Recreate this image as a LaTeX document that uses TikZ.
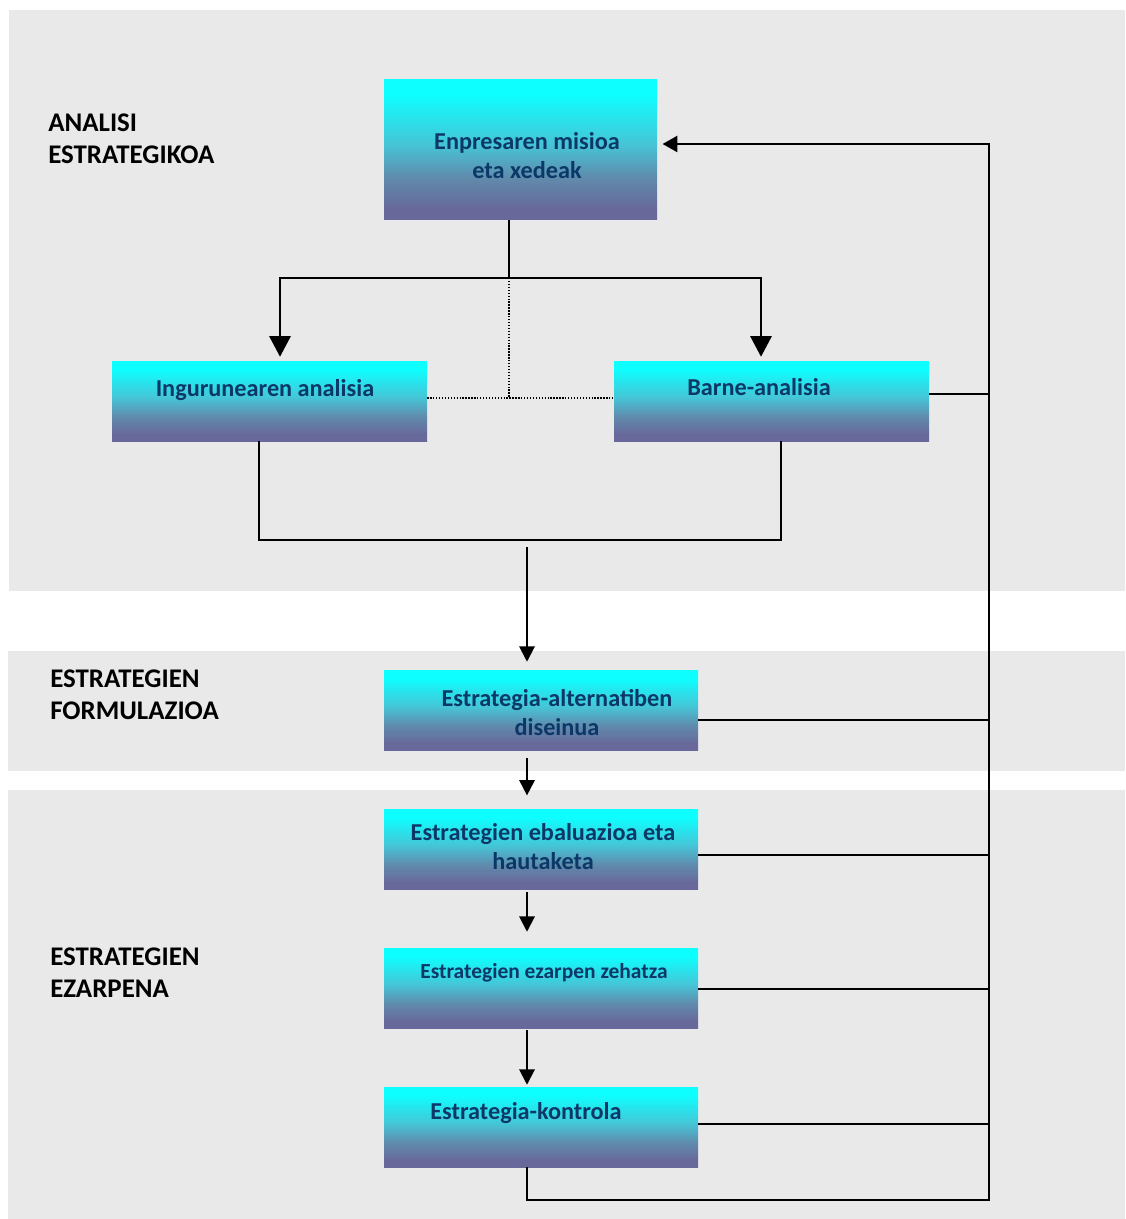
\documentclass[tikz,border=0pt]{standalone}
\usepackage{fontspec}
\setmainfont{Carlito}
\usetikzlibrary{arrows.meta,calc}
\definecolor{band}{RGB}{233,233,233}
\definecolor{boxtext}{RGB}{12,56,104}
\definecolor{topcyan}{RGB}{14,255,255}
\definecolor{midteal}{RGB}{70,196,214}
\definecolor{lowblue}{RGB}{96,138,172}
\definecolor{botpurple}{RGB}{104,104,154}
% vertical fill of the process boxes: cyan on top, slate purple at the bottom
\pgfdeclareverticalshading{procshade}{100bp}{%
  color(0bp)=(botpurple); color(29bp)=(botpurple); color(40bp)=(lowblue);
  color(52bp)=(midteal); color(70bp)=(topcyan); color(100bp)=(topcyan)}
\tikzset{
  px/.style={x=0.75pt,y=-0.75pt},
  procbox/.style={rectangle,draw=none,shading=procshade,inner sep=0pt},
  boxlabel/.style={text=boxtext,font=\bfseries\fontsize{18.2}{21.75}\selectfont,align=center,inner sep=0pt},
  smalllabel/.style={boxlabel,font=\bfseries\fontsize{16.1}{19}\selectfont},
  phase/.style={text=black,font=\bfseries\fontsize{20.2}{23.7}\selectfont,align=left,anchor=west,inner sep=0pt},
  link/.style={draw=black,line width=1.5pt},
  dotlink/.style={draw=black,line width=0.9pt,dash pattern=on 1pt off 1.2pt},
  bigtip/.style={link,-{Triangle[length=15.5pt,width=16pt]}},
  midtip/.style={link,-{Triangle[length=11pt,width=12pt]}},
  smalltip/.style={link,-{Triangle[length=11.5pt,width=11.5pt]}},
}
\begin{document}
\begin{tikzpicture}[px]
\useasboundingbox (0,0) rectangle (1125,1219);
\fill[white] (0,0) rectangle (1125,1219);
% phase bands
\fill[band] (9,10) rectangle (1125,591);
\fill[band] (8,651) rectangle (1125,771);
\fill[band] (8,790) rectangle (1125,1219);

% phase titles
\node[phase] (t1) at (48,139) {ANALISI\\ESTRATEGIKOA};
\node[phase] (t2) at (50,694.5) {ESTRATEGIEN\\FORMULAZIOA};
\node[phase] (t3) at (50,972.5) {ESTRATEGIEN\\EZARPENA};

% process boxes
\node[procbox,minimum width=273*0.75pt,minimum height=140*0.75pt] (mis) at (520.5,150) {};
\node[procbox,minimum width=315*0.75pt,minimum height=80*0.75pt] (ing) at (269.5,401) {};
\node[procbox,minimum width=315*0.75pt,minimum height=80*0.75pt] (bar) at (771.5,401) {};
\node[procbox,minimum width=314*0.75pt,minimum height=80*0.75pt] (alt) at (541,710) {};
\node[procbox,minimum width=314*0.75pt,minimum height=80*0.75pt] (eba) at (541,849) {};
\node[procbox,minimum width=314*0.75pt,minimum height=80*0.75pt] (eza) at (541,988) {};
\node[procbox,minimum width=314*0.75pt,minimum height=80*0.75pt] (kon) at (541,1127) {};

% box captions
\node[boxlabel] (misl) at (527,155.5) {Enpresaren misioa\\eta xedeak};
\node[boxlabel] (ingl) at (265,390) {Ingurunearen analisia};
\node[boxlabel] (barl) at (759,387) {Barne-analisia};
\node[boxlabel] (altl) at (557,712.5) {Estrategia-alternatiben\\diseinua};
\node[boxlabel] (ebal) at (543,846.5) {Estrategien ebaluazioa eta\\hautaketa};
\node[smalllabel] (ezal) at (544,973) {Estrategien ezarpen zehatza};
\node[boxlabel] (konl) at (526,1113) {Estrategia-kontrola};

% helper points of the connectors
\coordinate (split) at (509,278);
\coordinate (sl) at (280,278);
\coordinate (sr) at (761,278);
\coordinate (dotc) at (509,398);
\coordinate (jl) at (259,540);
\coordinate (jr) at (781,540);
\coordinate (down) at (527,547);
\coordinate (vx) at (527,0);
\coordinate (fbtop) at (989,144);
\coordinate (fbbot) at (989,1200);
\coordinate (kb) at (527,1200);
\coordinate (rb) at (989,394);
\coordinate (ra) at (989,720);
\coordinate (re) at (989,855);
\coordinate (rz) at (989,989);
\coordinate (rk) at (989,1124);

% mission splits into the two analyses
\draw[link] (split |- mis.south) -- (split);
\draw[bigtip,shorten >=3pt] (split) -- (sl) -- (sl |- ing.north);
\draw[bigtip,shorten >=3pt] (split) -- (sr) -- (sr |- bar.north);
% dotted tie between the analyses
\draw[dotlink] (split) -- (dotc);
\draw[dotlink] (ing.east |- dotc) -- (bar.west |- dotc);
% the analyses join below
\draw[link] (jl |- ing.south) -- (jl) -- (jr) -- (jr |- bar.south);

% main sequence
\draw[smalltip,shorten >=6pt] (down) -- (down |- alt.north);
\draw[smalltip,shorten <=6pt,shorten >=10pt] (vx |- alt.south) -- (vx |- eba.north);
\draw[smalltip,shorten <=2pt,shorten >=12pt] (vx |- eba.south) -- (vx |- eza.north);
\draw[smalltip,shorten <=1.5pt,shorten >=1.5pt] (vx |- eza.south) -- (vx |- kon.north);

% feedback loop back to the mission
\draw[midtip,shorten >=4pt] (kb |- kon.south) -- (kb) -- (fbbot) -- (fbtop) -- (fbtop -| mis.east);
\draw[link] (bar.east |- rb) -- (rb);
\draw[link] (alt.east |- ra) -- (ra);
\draw[link] (eba.east |- re) -- (re);
\draw[link] (eza.east |- rz) -- (rz);
\draw[link] (kon.east |- rk) -- (rk);
\end{tikzpicture}
\end{document}
